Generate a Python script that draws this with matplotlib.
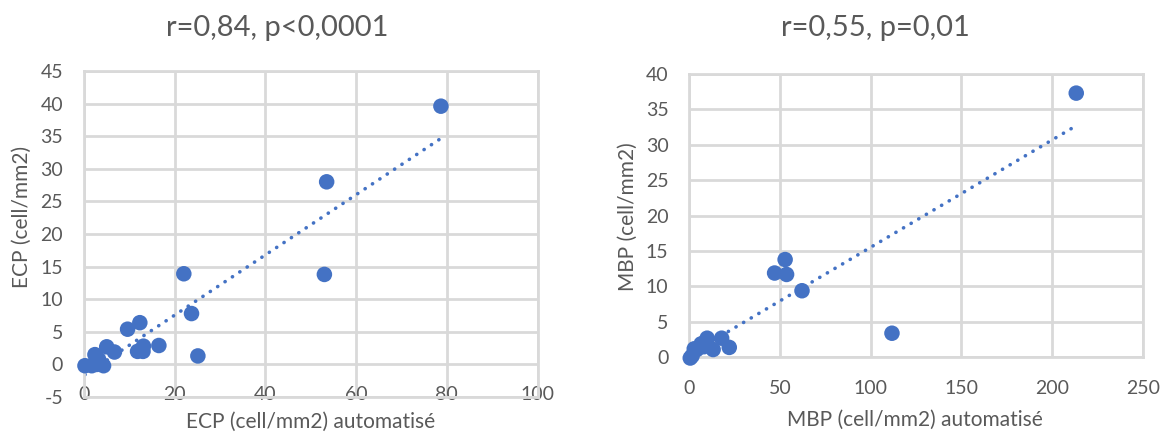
import matplotlib
matplotlib.use("Agg")
import matplotlib.pyplot as plt
import numpy as np

plt.rcParams['font.family'] = ['Lato', 'DejaVu Sans']
plt.rcParams['axes.unicode_minus'] = False

BLUE = "#4472C4"
GRID = "#D9D9D9"
TEXT = "#595959"

# ECP: automated count vs manual count
ecp_auto = [78.7, 53.5, 53.0, 22.0, 23.7, 25.1, 12.3, 9.6, 16.5, 13.1,
            11.8, 13.0, 6.7, 5.0, 2.4, 4.3, 0.2, 1.7, 3.2, 2.8]
ecp_manual = [39.6, 28.0, 13.8, 13.9, 7.8, 1.3, 6.4, 5.4, 2.9, 2.8,
              2.0, 2.0, 1.9, 2.7, 1.5, -0.2, -0.2, -0.2, 0.8, 0.0]

# MBP: automated count vs manual count
mbp_auto = [213.3, 111.7, 62.1, 52.8, 47.0, 53.6, 22.0, 17.8, 9.8, 13.1,
            6.5, 4.1, 2.7, 0.5, 1.5, 8.0]
mbp_manual = [37.3, 3.4, 9.4, 13.8, 11.9, 11.7, 1.4, 2.7, 2.7, 1.1,
              1.9, 1.1, 1.2, -0.1, 0.2, 1.5]

ecp_title = "r=0,84, p<0,0001"
mbp_title = "r=0,55, p=0,01"

fig = plt.figure(figsize=(11.69, 4.33), dpi=100)
fig.patch.set_facecolor("white")


def panel(rect, x, y, xlim, xstep, ylim, ystep, xpad):
    ax = fig.add_axes(rect)
    ax.set_xlim(*xlim)
    ax.set_ylim(*ylim)
    ax.set_xticks(np.arange(xlim[0], xlim[1] + 1e-9, xstep))
    ax.set_yticks(np.arange(ylim[0], ylim[1] + 1e-9, ystep))
    ax.grid(True, color=GRID, linewidth=2)
    ax.set_axisbelow(True)
    for s in ax.spines.values():
        s.set_color(GRID)
        s.set_linewidth(2)
    ax.tick_params(length=0, labelsize=14, colors=TEXT)
    ax.tick_params(axis="y", pad=15)
    ax.tick_params(axis="x", pad=xpad)

    # linear trendline over the data range
    slope, icpt = np.polyfit(x, y, 1)
    xs = np.array([min(x), max(x)])
    ax.plot(xs, slope * xs + icpt, color=BLUE, linewidth=2.6,
            linestyle=(0, (0.05, 2.4)), dash_capstyle="round", zorder=2)
    ax.scatter(x, y, s=125, color=BLUE, edgecolors="none", zorder=3,
               clip_on=False)
    return ax


panel([0.0719, 0.0831, 0.3879, 0.753], ecp_auto, ecp_manual,
      (0, 100), 20, (-5, 45), 5, xpad=-8)
panel([0.5897, 0.1748, 0.3879, 0.6543], mbp_auto, mbp_manual,
      (0, 250), 50, (0, 40), 5, xpad=16)

fig.text(0.237, 0.935, ecp_title, ha="center", va="center", fontsize=21, color=TEXT)
fig.text(0.749, 0.935, mbp_title, ha="center", va="center", fontsize=21, color=TEXT)

fig.text(0.266, 0.026, "ECP (cell/mm2) automatisé", ha="center", va="center",
         fontsize=15, color=TEXT)
fig.text(0.783, 0.030, "MBP (cell/mm2) automatisé", ha="center", va="center",
         fontsize=15, color=TEXT)
fig.text(0.019, 0.50, "ECP (cell/mm2)", ha="center", va="center",
         rotation=90, fontsize=15, color=TEXT)
fig.text(0.537, 0.50, "MBP (cell/mm2)", ha="center", va="center",
         rotation=90, fontsize=15, color=TEXT)

fig.savefig("out.png", dpi=100, facecolor="white")
